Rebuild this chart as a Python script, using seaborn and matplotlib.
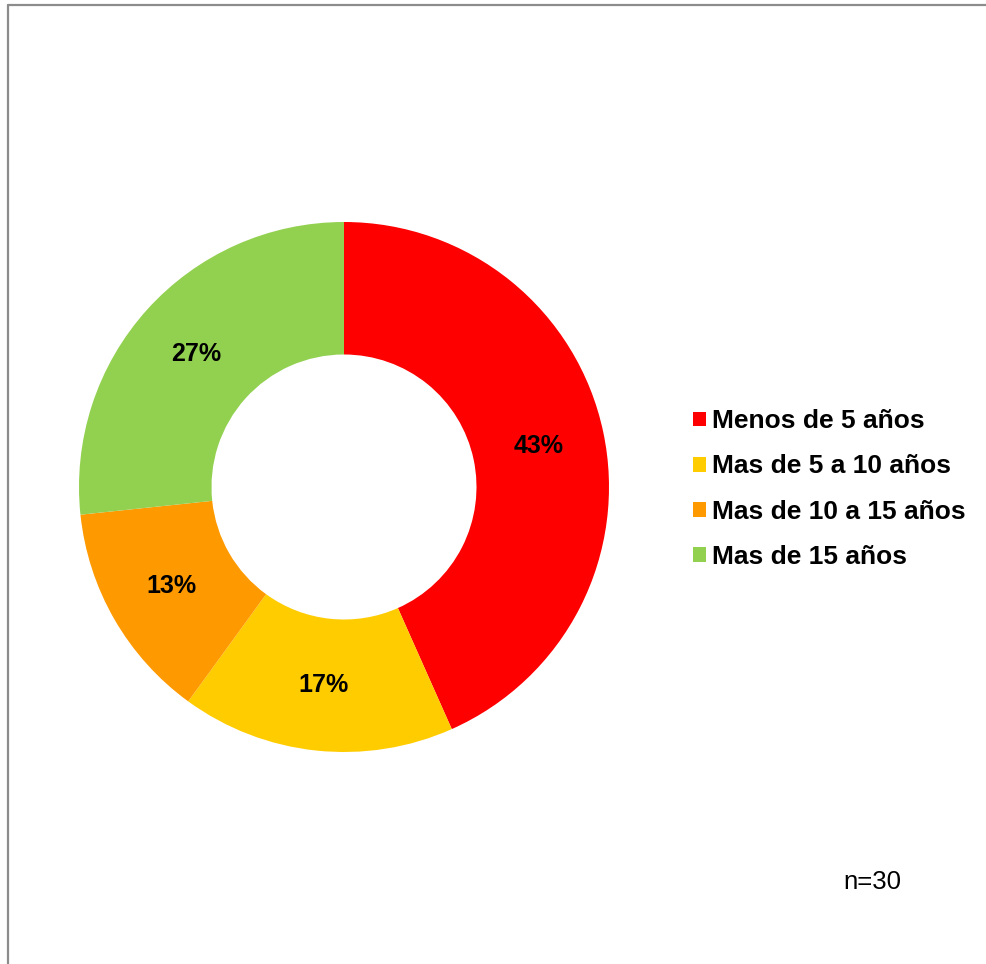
import matplotlib
matplotlib.use("Agg")
import matplotlib.pyplot as plt
from matplotlib.patches import Patch
from matplotlib.lines import Line2D
import seaborn as sns

# Survey data: years of experience (n=30)
categories = ["Menos de 5 años", "Mas de 5 a 10 años", "Mas de 10 a 15 años", "Mas de 15 años"]
counts = [13, 5, 4, 8]
colors = ["#FF0000", "#FFCC00", "#FF9900", "#92D050"]
sample_label = "n=30"

sns.set_theme(style="white")
plt.rcParams["font.family"] = ["Liberation Sans", "DejaVu Sans"]
plt.rcParams["text.color"] = "black"

W, H, DPI = 987, 964, 100
fig = plt.figure(figsize=(W / DPI, H / DPI), dpi=DPI, facecolor="white")

# Donut axes: centre (344, 487) px, radius 265 px
cx, cy, r = 344, 487, 265
ax = fig.add_axes([(cx - r) / W, (H - cy - r) / H, 2 * r / W, 2 * r / H])
ax.set_aspect("equal")

wedges, texts, autotexts = ax.pie(
    counts,
    colors=colors,
    startangle=90,
    counterclock=False,
    radius=1.0,
    autopct=lambda p: f"{p:.0f}%",
    pctdistance=0.75,
    wedgeprops=dict(width=0.5, linewidth=0),
    textprops=dict(fontsize=18, fontweight="bold", color="black"),
)
ax.set_xlim(-1, 1)
ax.set_ylim(-1, 1)
ax.axis("off")

# Legend to the right of the ring
handles = [Patch(facecolor=c, edgecolor="none") for c in colors]
fig.legend(
    handles, categories,
    loc="center left",
    bbox_to_anchor=(693 / W, 1 - 489 / H),
    frameon=False,
    borderpad=0, borderaxespad=0,
    handlelength=0.49, handleheight=0.49,
    handletextpad=0.23,
    labelspacing=0.8,
    labelcolor="black",
    prop=dict(size=19, weight="bold"),
)

# Sample size note
fig.text(872 / W, 1 - 882 / H, sample_label, ha="center", va="center", fontsize=18.5, color="black")

# Chart area frame (left and top edges)
frame_color = "#8C8C8C"
fig.add_artist(Line2D([8.5 / W, 8.5 / W], [0, 1 - 4.5 / H], transform=fig.transFigure,
                      color=frame_color, linewidth=1.6))
fig.add_artist(Line2D([8.5 / W, 1], [1 - 4.5 / H, 1 - 4.5 / H], transform=fig.transFigure,
                      color=frame_color, linewidth=1.6))

fig.savefig("out.png", dpi=DPI, facecolor="white")
